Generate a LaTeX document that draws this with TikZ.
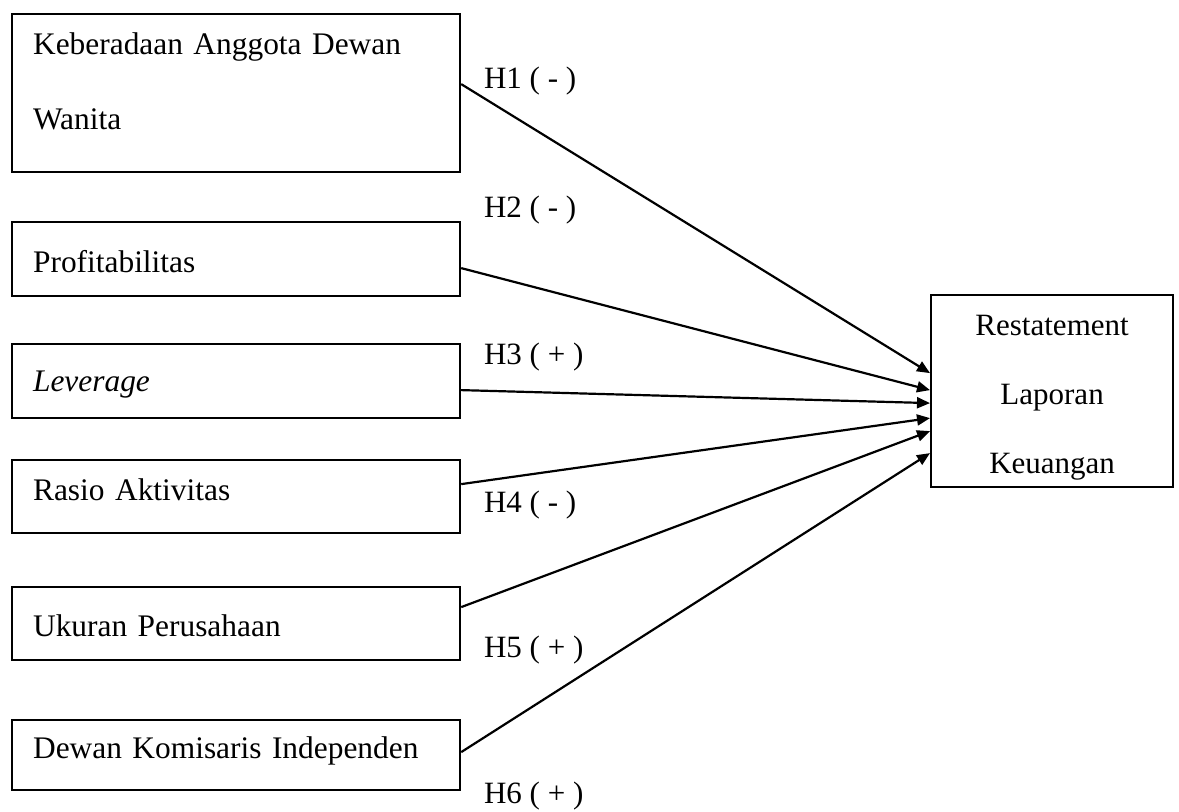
\documentclass[tikz,border=0pt]{standalone}
\usepackage{fontspec}
\setmainfont{Liberation Serif}
\usetikzlibrary{arrows.meta}

\begin{document}
\begin{tikzpicture}[x=0.5pt,y=-0.5pt,line width=1.1pt,>={Triangle[length=6.5pt,width=5.5pt]},
  var/.style={draw,anchor=north west,align=left,text width=203pt,inner xsep=10.5pt,inner ysep=0pt,font=\fontsize{15.7}{37.5}\selectfont},
  hyp/.style={anchor=base west,inner sep=0pt,font=\fontsize{15.5}{18}\selectfont}]
  \useasboundingbox (0,0) rectangle (1179,811);
  \node[var,text height=20pt,text depth=59pt] (wanita) at (11,13) {Keberadaan Anggota Dewan\\Wanita};
  \node[var,text height=25pt,text depth=12pt] (profit) at (11,221) {Profitabilitas};
  \node[var,text height=23.5pt,text depth=13.5pt] (lev) at (11,343) {\textit{Leverage}};
  \node[var,text height=20pt,text depth=16.5pt] (aktiv) at (11,459) {Rasio Aktivitas};
  \node[var,text height=24.5pt,text depth=12pt] (ukuran) at (11,586) {Ukuran Perusahaan};
  \node[var,text height=19pt,text depth=16pt] (dki) at (11,719) {Dewan Komisaris Independen};
  \node[draw,anchor=north west,align=center,text width=121pt,inner sep=0pt,text height=20pt,text depth=76pt,font=\fontsize{15.5}{34.5}\selectfont] (restat) at (930,294) {Restatement\\Laporan\\Keuangan};
  \draw[->] ([yshift=4.5pt]wanita.east) -- ([yshift=9pt]restat.west);
  \draw[->] ([yshift=-4.5pt]profit.east) -- ([yshift=0.5pt]restat.west);
  \draw[->] ([yshift=-4.5pt]lev.east) -- ([yshift=-6pt]restat.west);
  \draw[->] ([yshift=6.25pt]aktiv.east) -- ([yshift=-13.5pt]restat.west);
  \draw[->] ([yshift=8.25pt]ukuran.east) -- ([yshift=-20pt]restat.west);
  \draw[->] ([yshift=1.5pt]dki.east) -- ([yshift=-31pt]restat.west);
  \node[hyp] (h1) at (483,88) {H1 ( - )};
  \node[hyp] (h2) at (483,217) {H2 ( - )};
  \node[hyp] (h3) at (483,364) {H3 ( + )};
  \node[hyp] (h4) at (483,512) {H4 ( - )};
  \node[hyp] (h5) at (483,657) {H5 ( + )};
  \node[hyp] (h6) at (483,803) {H6 ( + )};
\end{tikzpicture}
\end{document}
